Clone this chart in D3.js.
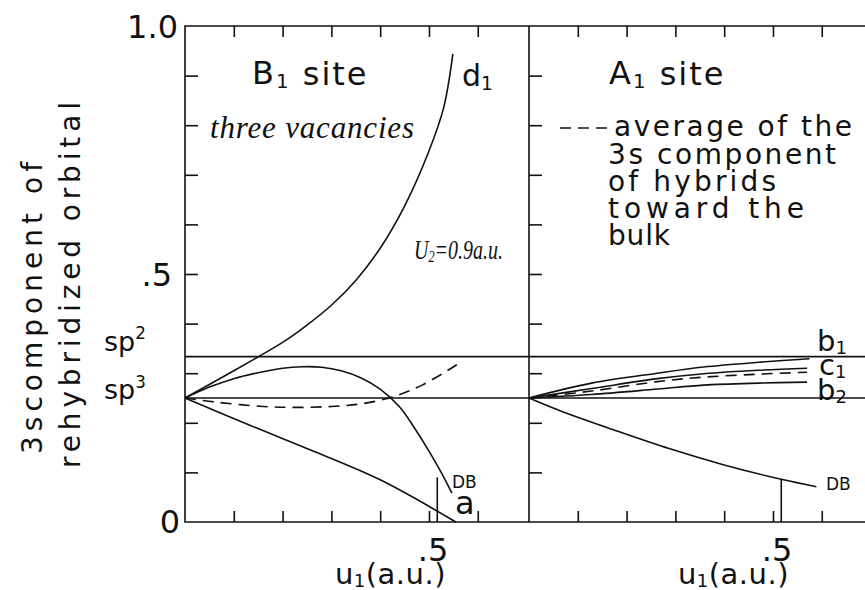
<!DOCTYPE html>
<html lang="en">
<head>
<meta charset="UTF-8">
<title>3s component of rehybridized orbital</title>
<script src="https://d3js.org/d3.v7.min.js"></script>
<style>
  body { margin: 0; padding: 0; background: #fff; }
  svg { font-family: "DejaVu Sans", sans-serif; }
  .frame, .ref { stroke: #111; stroke-width: 1.6; fill: none; }
  .curve { stroke: #111; stroke-width: 1.6; fill: none; }
  .dashed { stroke-dasharray: 11 7; }
  .tick line { stroke: #111; stroke-width: 1.6; }
  .hand { font-family: "Liberation Serif", serif; font-style: italic; }
</style>
</head>
<body>
<div class="chart"></div>
<script>
// hybrid levels
var sp2 = 1 / 3, sp3 = 1 / 4;

// B1 site, three vacancies (u1, 3s component)
var leftD1 = [[0, 0.25], [0.1, 0.305], [0.15, 0.333], [0.2, 0.362], [0.25, 0.397], [0.3, 0.437], [0.35, 0.487],
  [0.4, 0.552], [0.45, 0.637], [0.5, 0.748], [0.53, 0.835], [0.549, 0.944]];
var leftDB = [[0, 0.25], [0.05, 0.272], [0.1, 0.289], [0.15, 0.301], [0.2, 0.31], [0.24, 0.313], [0.28, 0.312],
  [0.32, 0.305], [0.36, 0.291], [0.4, 0.268], [0.44, 0.232], [0.47, 0.19], [0.5, 0.143], [0.525, 0.1], [0.547, 0.058]];
var leftA = [[0, 0.25], [0.133, 0.195], [0.265, 0.142], [0.4, 0.085], [0.555, 0.0]];
var leftAvg = [[0, 0.25], [0.06, 0.242], [0.16, 0.233], [0.23, 0.231], [0.3, 0.233], [0.36, 0.238],
  [0.425, 0.252], [0.486, 0.276], [0.557, 0.317]];

// A1 site
var rightB1 = [[0, 0.25], [0.128, 0.28], [0.263, 0.3], [0.358, 0.3125], [0.47, 0.322], [0.575, 0.329]];
var rightC1 = [[0, 0.25], [0.128, 0.269], [0.263, 0.289], [0.358, 0.299], [0.47, 0.306], [0.57, 0.31]];
var rightAvg = [[0, 0.25], [0.128, 0.264], [0.263, 0.283], [0.358, 0.292], [0.47, 0.298], [0.57, 0.302]];
var rightB2 = [[0, 0.25], [0.128, 0.257], [0.263, 0.268], [0.358, 0.276], [0.47, 0.28], [0.57, 0.282]];
var rightDB = [[0, 0.25], [0.08, 0.218], [0.161, 0.19], [0.287, 0.148], [0.4, 0.115], [0.517, 0.086], [0.589, 0.071]];

// u1 where the short vertical markers stand
var markerU = 0.517;
var leftMarkerTop = 0.09, rightMarkerTop = 0.086;

var xTicks = [0.1, 0.2, 0.3, 0.4, 0.5, 0.6];
var yTicks = [0.1, 0.2, 0.3, 0.4, 0.5, 0.6, 0.7, 0.8, 0.9];

var width = 865, height = 590;
var svg = d3.select('.chart').append('svg')
  .attr('width', width)
  .attr('height', height);

var xL = d3.scaleLinear().domain([0, 0.705]).range([185, 529]);
var xR = d3.scaleLinear().domain([0, 0.705]).range([529, 873]);
var y = d3.scaleLinear().domain([0, 1]).range([522, 26]);

// frame
svg.append('path').attr('class', 'frame')
  .attr('d', 'M' + width + ',' + y(1) + 'H' + xL(0) + 'V' + y(0) + 'H' + width);
svg.append('line').attr('class', 'frame')
  .attr('x1', xR(0)).attr('x2', xR(0)).attr('y1', y(1)).attr('y2', y(0));

// sp2 / sp3 reference lines
[sp2, sp3].forEach(function (v) {
  svg.append('line').attr('class', 'ref')
    .attr('x1', xL(0)).attr('x2', width)
    .attr('y1', y(v)).attr('y2', y(v));
});

function noDomain(g) { g.select('.domain').remove(); }

[xL, xR].forEach(function (x) {
  svg.append('g').attr('transform', 'translate(0,' + y(1) + ')')
    .call(d3.axisBottom(x).tickValues(xTicks).tickSize(11).tickFormat(''))
    .call(noDomain);
  svg.append('g').attr('transform', 'translate(0,' + y(0) + ')')
    .call(d3.axisTop(x).tickValues(xTicks).tickSize(11).tickFormat(''))
    .call(noDomain);
  svg.append('g').attr('transform', 'translate(' + x(0) + ',0)')
    .call(d3.axisRight(y).tickValues(yTicks).tickSize(13).tickFormat(''))
    .call(noDomain);
});

// curves
function drawCurve(data, x, dashed) {
  var line = d3.line()
    .x(function (d) { return x(d[0]); })
    .y(function (d) { return y(d[1]); })
    .curve(d3.curveCatmullRom.alpha(0.5));
  svg.append('path')
    .attr('class', 'curve' + (dashed ? ' dashed' : ''))
    .attr('d', line(data));
}

drawCurve(leftD1, xL);
drawCurve(leftDB, xL);
drawCurve(leftA, xL);
drawCurve(leftAvg, xL, true);
drawCurve(rightB1, xR);
drawCurve(rightC1, xR);
drawCurve(rightAvg, xR, true);
drawCurve(rightB2, xR);
drawCurve(rightDB, xR);

svg.append('line').attr('class', 'curve')
  .attr('x1', xL(markerU)).attr('x2', xL(markerU))
  .attr('y1', y(0)).attr('y2', y(leftMarkerTop));
svg.append('line').attr('class', 'curve')
  .attr('x1', xR(markerU)).attr('x2', xR(markerU))
  .attr('y1', y(0)).attr('y2', y(rightMarkerTop));

// text helper: parts are [text, shift]; shift is 'sub', 'sup' or 'back' (dy back to baseline)
function label(x, yy, parts, size, opts) {
  opts = opts || {};
  var t = svg.append('text')
    .attr('x', x).attr('y', yy)
    .attr('font-size', size)
    .attr('fill', '#111')
    .attr('text-anchor', opts.anchor || 'start')
    .attr('letter-spacing', opts.spacing || 0);
  if (opts.cls) t.attr('class', opts.cls);
  if (opts.transform) t.attr('transform', opts.transform);
  if (opts.length) t.attr('textLength', opts.length).attr('lengthAdjust', opts.adjust || 'spacing');
  parts.forEach(function (p) {
    var s = t.append('tspan').text(p[0]);
    if (p[1] === 'sub') s.attr('font-size', size * 0.62).attr('dy', size * 0.12);
    if (p[1] === 'sup') s.attr('font-size', size * 0.62).attr('dy', -size * 0.42);
    if (p[1] === 'back') s.attr('dy', p[2]);
  });
  return t;
}

// y tick labels
label(178, y(1) + 12, [['1.0']], 32, { anchor: 'end' });
label(172, y(0.5) + 12, [['.5']], 32, { anchor: 'end' });
label(180, y(0) + 11, [['0']], 32, { anchor: 'end' });
label(104, y(sp2) - 6, [['sp'], ['2', 'sup']], 27);
label(104, y(sp3) + 1, [['sp'], ['3', 'sup']], 27);

// y axis title
label(0, 0, [['3scomponent of']], 28, { anchor: 'middle', length: 292, transform: 'translate(42,308) rotate(-90)' });
label(0, 0, [['rehybridized orbital']], 28, { anchor: 'middle', length: 366, transform: 'translate(80,285) rotate(-90)' });

// x labels
label(xL(0.5) + 4, 561, [['.5']], 32, { anchor: 'middle' });
label(xL(0.5) + 17, 584, [['u'], ['1', 'sub'], ['(a.u.)', 'back', -3.5]], 29, { anchor: 'end', spacing: 0.5 });
label(xR(0.5) + 4, 561, [['.5']], 32, { anchor: 'middle' });
label(xR(0.5) + 16, 584, [['u'], ['1', 'sub'], ['(a.u.)', 'back', -3.5]], 29, { anchor: 'end', spacing: 0.5 });

// left panel annotations
label(252, 84, [['B'], ['1', 'sub'], [' site', 'back', -3]], 32, { spacing: 2 });
label(462, 86, [['d'], ['1', 'sub']], 30);
label(210, 138, [['three vacancies']], 31, { cls: 'hand', length: 204 });
label(414, 259, [['U'], ['2', 'sub'], ['=0.9a.u.', 'back', -3]], 27, { cls: 'hand', length: 89, adjust: 'spacingAndGlyphs' });
label(452, 488, [['DB']], 17);
label(455, 514, [['a']], 32);

// right panel annotations
label(609, 84, [['A'], ['1', 'sub'], [' site', 'back', -3]], 32, { spacing: 2 });
svg.append('line').attr('class', 'curve dashed')
  .attr('x1', 560).attr('x2', 612).attr('y1', 128).attr('y2', 128)
  .attr('stroke-dasharray', '10 6');
label(614, 136, [['average of the']], 28, { length: 238 });
label(608, 164, [['3s component']], 28, { length: 228 });
label(608, 191, [['of hybrids']], 28, { length: 168 });
label(608, 218, [['toward the']], 28, { length: 196 });
label(608, 245, [['bulk']], 28, { length: 62 });
label(817, 351, [['b'], ['1', 'sub']], 29);
label(819, 375, [['c'], ['1', 'sub']], 29);
label(817, 400, [['b'], ['2', 'sub']], 29);
label(826, 490, [['DB']], 17);
</script>
</body>
</html>
